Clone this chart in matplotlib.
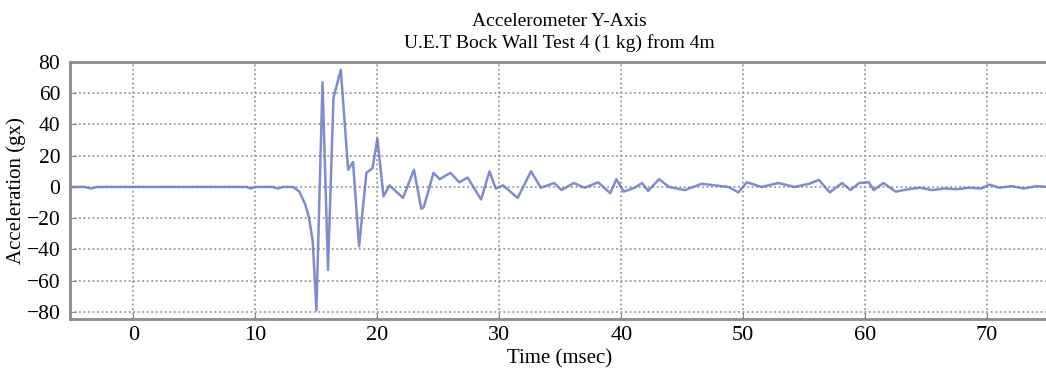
import matplotlib.pyplot as plt
import numpy as np

# accelerometer trace, time in msec and acceleration in g
t_ms = [-5.2, -4.0, -3.5, -3.0, 0.0, 5.0, 9.3, 9.6, 10.0, 11.4, 11.8, 12.3, 13.1,
        13.6, 14.1, 14.4, 14.7, 15.0, 15.5, 15.95, 16.4, 17.0, 17.6, 18.0, 18.5,
        19.1, 19.6, 20.0, 20.5, 21.0, 22.1, 23.0, 23.6, 23.8, 24.6, 25.1, 26.0,
        26.7, 27.4, 28.5, 29.2, 29.7, 30.3, 31.5, 32.6, 33.4, 34.5, 35.1, 36.1,
        37.0, 38.1, 39.1, 39.6, 40.2, 41.1, 41.7, 42.2, 43.1, 43.9, 45.2, 46.6,
        48.8, 49.6, 50.3, 51.5, 52.9, 54.2, 55.4, 56.2, 57.1, 58.1, 58.8, 59.5,
        60.3, 60.7, 61.5, 62.5, 63.5, 64.5, 65.5, 66.5, 67.5, 68.5, 69.5, 70.2,
        71.0, 72.0, 73.0, 74.0, 75.0]
accel = [0.0, 0.0, -1.0, 0.0, 0.0, 0.0, 0.0, -1.0, 0.0, 0.0, -1.0, 0.0, 0.0,
         -3.0, -11.5, -20.0, -35.0, -79.0, 67.0, -53.0, 57.0, 75.0, 11.0, 16.0, -38.0,
         9.0, 12.0, 31.0, -6.0, 1.0, -7.0, 11.0, -14.0, -13.0, 9.0, 5.0, 9.0,
         3.0, 6.0, -8.0, 10.0, -1.0, 1.0, -7.0, 10.0, -0.5, 2.5, -2.0, 2.5,
         -0.5, 3.0, -4.0, 5.0, -3.0, -0.5, 2.5, -2.5, 5.0, 0.0, -2.0, 2.0,
         0.0, -3.5, 3.0, 0.0, 2.5, 0.0, 2.0, 4.5, -3.5, 2.5, -2.0, 2.5,
         3.0, -2.0, 2.5, -3.0, -1.5, -0.5, -2.0, -1.0, -1.5, -0.5, -1.0, 1.5,
         -0.5, 0.5, -1.0, 0.5, 0.0]

x_ticks = [0, 10, 20, 30, 40, 50, 60, 70]
y_ticks = [-80, -60, -40, -20, 0, 20, 40, 60, 80]

plt.rcParams['font.family'] = ['Liberation Serif', 'DejaVu Serif']

fig = plt.figure(figsize=(10.46, 3.72), dpi=100)
ax = fig.add_axes([0.067, 0.1425, 0.935, 0.691])

ax.plot(t_ms, accel, color='#6a78c8', linewidth=1.8, alpha=0.85)

ax.set_xlim(-5.2, 75)
ax.set_ylim(-84.5, 80)
ax.set_xticks(x_ticks)
ax.set_yticks(y_ticks)
ax.set_yticklabels([str(v).replace('-', '\u2212') for v in y_ticks])
ax.tick_params(direction='in', labelsize=16, color='#888888', length=4, pad=5)
ax.tick_params(axis='y', labelsize=15.5, pad=7)

ax.grid(True, color='#9a9a9a', linestyle=(0, (1, 1.5)), linewidth=1.3)
for s in ax.spines.values():
    s.set_color('#8c8c8c')
    s.set_linewidth(2)

ax.set_xlabel('Time (msec)', fontsize=15, labelpad=3)
ax.set_ylabel('Acceleration (gx)', fontsize=15, labelpad=0)
ax.set_title('Accelerometer Y-Axis\nU.E.T Bock Wall Test 4 (1 kg) from 4m',
             fontsize=14, linespacing=1.3, pad=10)

plt.savefig('out.png', dpi=100)
